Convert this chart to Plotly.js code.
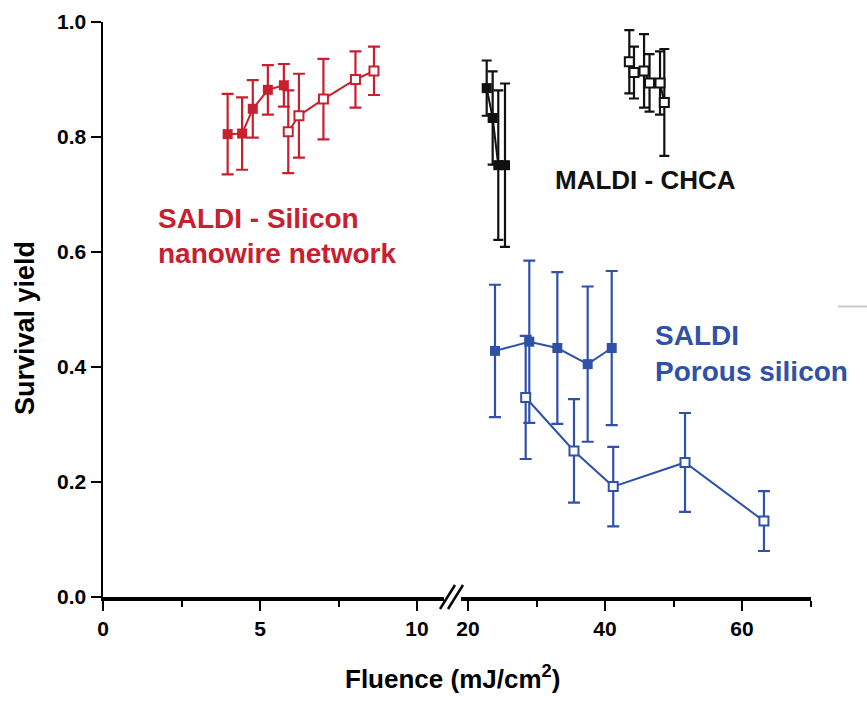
<!DOCTYPE html>
<html>
<head>
<meta charset="utf-8">
<script src="https://cdn.plot.ly/plotly-3.0.1.min.js"></script>
<style>
  html, body { margin: 0; padding: 0; background: #fff; }
  #chart { width: 867px; height: 708px; }
</style>
</head>
<body>
<div id="chart"></div>
<script>
// SALDI - silicon nanowire network (left, low fluence axis)
var nwFilledX = [3.97, 4.43, 4.77, 5.25, 5.76];
var nwFilledY = [0.805, 0.806, 0.849, 0.882, 0.890];
var nwFilledErr = [0.070, 0.063, 0.050, 0.043, 0.037];
var nwOpenX = [5.90, 6.24, 7.02, 8.04, 8.63];
var nwOpenY = [0.809, 0.837, 0.866, 0.900, 0.915];
var nwOpenErr = [0.072, 0.073, 0.070, 0.049, 0.042];

// MALDI - CHCA (right, high fluence axis)
var maldiFilledX = [22.73, 23.6, 24.42, 25.4];
var maldiFilledY = [0.885, 0.833, 0.751, 0.751];
var maldiFilledErr = [0.048, 0.081, 0.130, 0.142];
var maldiOpenX = [43.55, 44.23, 45.7, 46.5, 48.03, 48.66];
var maldiOpenY = [0.931, 0.912, 0.915, 0.894, 0.894, 0.860];
var maldiOpenErr = [0.055, 0.045, 0.064, 0.050, 0.055, 0.093];

// SALDI - porous silicon (right axis)
var psiFilledX = [23.94, 28.95, 33.04, 37.47, 40.98];
var psiFilledY = [0.428, 0.444, 0.433, 0.405, 0.433];
var psiFilledErr = [0.115, 0.141, 0.132, 0.135, 0.134];
var psiOpenX = [28.42, 35.47, 41.2, 51.68, 63.2];
var psiOpenY = [0.347, 0.254, 0.192, 0.234, 0.132];
var psiOpenErr = [0.107, 0.090, 0.069, 0.086, 0.052];

var yTicks = [0, 0.2, 0.4, 0.6, 0.8, 1.0];

var red = '#c8202f';
var black = '#111111';
var blue = '#2f51a8';
var font = '"Liberation Sans", Arial, sans-serif';

function series(x, y, err, color, open, xaxis, capw) {
    return {
        x: x,
        y: y,
        xaxis: xaxis,
        yaxis: 'y',
        type: 'scatter',
        mode: 'lines+markers',
        line: {color: color, width: 2},
        marker: {
            symbol: 'square',
            size: open ? 9 : 10,
            color: open ? 'white' : color,
            line: {color: color, width: open ? 2 : 0}
        },
        error_y: {
            type: 'data',
            array: err,
            visible: true,
            color: color,
            thickness: 2.2,
            width: capw
        },
        cliponaxis: false,
        hoverinfo: 'skip'
    }
}

var traces = [
    series(nwFilledX, nwFilledY, nwFilledErr, red, false, 'x', 6),
    series(nwOpenX, nwOpenY, nwOpenErr, red, true, 'x', 6),
    series(maldiFilledX, maldiFilledY, maldiFilledErr, black, false, 'x2', 5),
    series(maldiOpenX, maldiOpenY, maldiOpenErr, black, true, 'x2', 5),
    series(psiFilledX, psiFilledY, psiFilledErr, blue, false, 'x2', 6),
    series(psiOpenX, psiOpenY, psiOpenErr, blue, true, 'x2', 6)
];

// pixel helpers for the plot frame (left 103, bottom 597, 708 x 575)
function px(p) { return (p - 103) / 708; }
function py(p) { return (597 - p) / 575; }

var axisCommon = {
    showgrid: false,
    zeroline: false,
    showline: true,
    linecolor: 'black',
    ticks: 'outside',
    ticklen: 10,
    tickwidth: 2,
    tickcolor: 'black',
    tickfont: {family: font, size: 21, color: 'black', weight: 'bold'},
    fixedrange: true
};

var layout = {
    width: 867,
    height: 708,
    margin: {l: 103, r: 56, t: 22, b: 111},
    paper_bgcolor: 'white',
    plot_bgcolor: 'white',
    showlegend: false,
    xaxis: Object.assign({}, axisCommon, {
        domain: [0, px(444)],
        range: [0, (444 - 103) / 31.4],
        tick0: 0,
        dtick: 5,
        linewidth: 3.5,
        anchor: 'y',
        minor: {dtick: 2.5, ticks: 'outside', ticklen: 6, tickwidth: 2, tickcolor: 'black'}
    }),
    xaxis2: Object.assign({}, axisCommon, {
        domain: [px(461), 1],
        range: [20 - (468 - 461) / 6.85, 70.07],
        tick0: 20,
        dtick: 20,
        linewidth: 3.5,
        anchor: 'y',
        minor: {dtick: 10, ticks: 'outside', ticklen: 6, tickwidth: 2, tickcolor: 'black'}
    }),
    yaxis: Object.assign({}, axisCommon, {
        range: [0, 1],
        tickvals: yTicks,
        tickformat: '.1f',
        linewidth: 2.5,
        anchor: 'x'
    }),
    shapes: [
        // axis break marks
        {type: 'line', xref: 'paper', yref: 'paper', x0: px(440), y0: py(609), x1: px(455), y1: py(585),
            line: {color: 'black', width: 2.5}},
        {type: 'line', xref: 'paper', yref: 'paper', x0: px(448), y0: py(609), x1: px(463), y1: py(585),
            line: {color: 'black', width: 2.5}},
        // stray grey dash at the right edge
        {type: 'line', xref: 'paper', yref: 'paper', x0: px(838), y0: py(306.5), x1: px(867), y1: py(306.5),
            line: {color: '#c8c8c8', width: 2}}
    ],
    annotations: [
        {text: 'SALDI - Silicon', x: px(156), y: py(218), xanchor: 'left', yanchor: 'middle',
            font: {family: font, size: 28, color: red, weight: 'bold'}},
        {text: 'nanowire network', x: px(156), y: py(253), xanchor: 'left', yanchor: 'middle',
            font: {family: font, size: 28, color: red, weight: 'bold'}},
        {text: 'MALDI - CHCA', x: px(553), y: py(180), xanchor: 'left', yanchor: 'middle',
            font: {family: font, size: 26, color: black, weight: 'bold'}},
        {text: 'SALDI', x: px(653), y: py(335), xanchor: 'left', yanchor: 'middle',
            font: {family: font, size: 28, color: blue, weight: 'bold'}},
        {text: 'Porous silicon', x: px(653), y: py(371), xanchor: 'left', yanchor: 'middle',
            font: {family: font, size: 28, color: blue, weight: 'bold'}},
        {text: 'Survival yield', x: px(25), y: py(328), textangle: -90, xanchor: 'center', yanchor: 'middle',
            font: {family: font, size: 27, color: 'black', weight: 'bold'}},
        {text: 'Fluence (mJ/cm<sup>2</sup>)', x: px(452), y: py(677), xanchor: 'center', yanchor: 'middle',
            font: {family: font, size: 26, color: 'black', weight: 'bold'}}
    ].map(function (a) {
        a.xref = 'paper';
        a.yref = 'paper';
        a.showarrow = false;
        return a;
    })
};

Plotly.newPlot(document.getElementById('chart'), traces, layout, {displayModeBar: false, staticPlot: true});
</script>
</body>
</html>
